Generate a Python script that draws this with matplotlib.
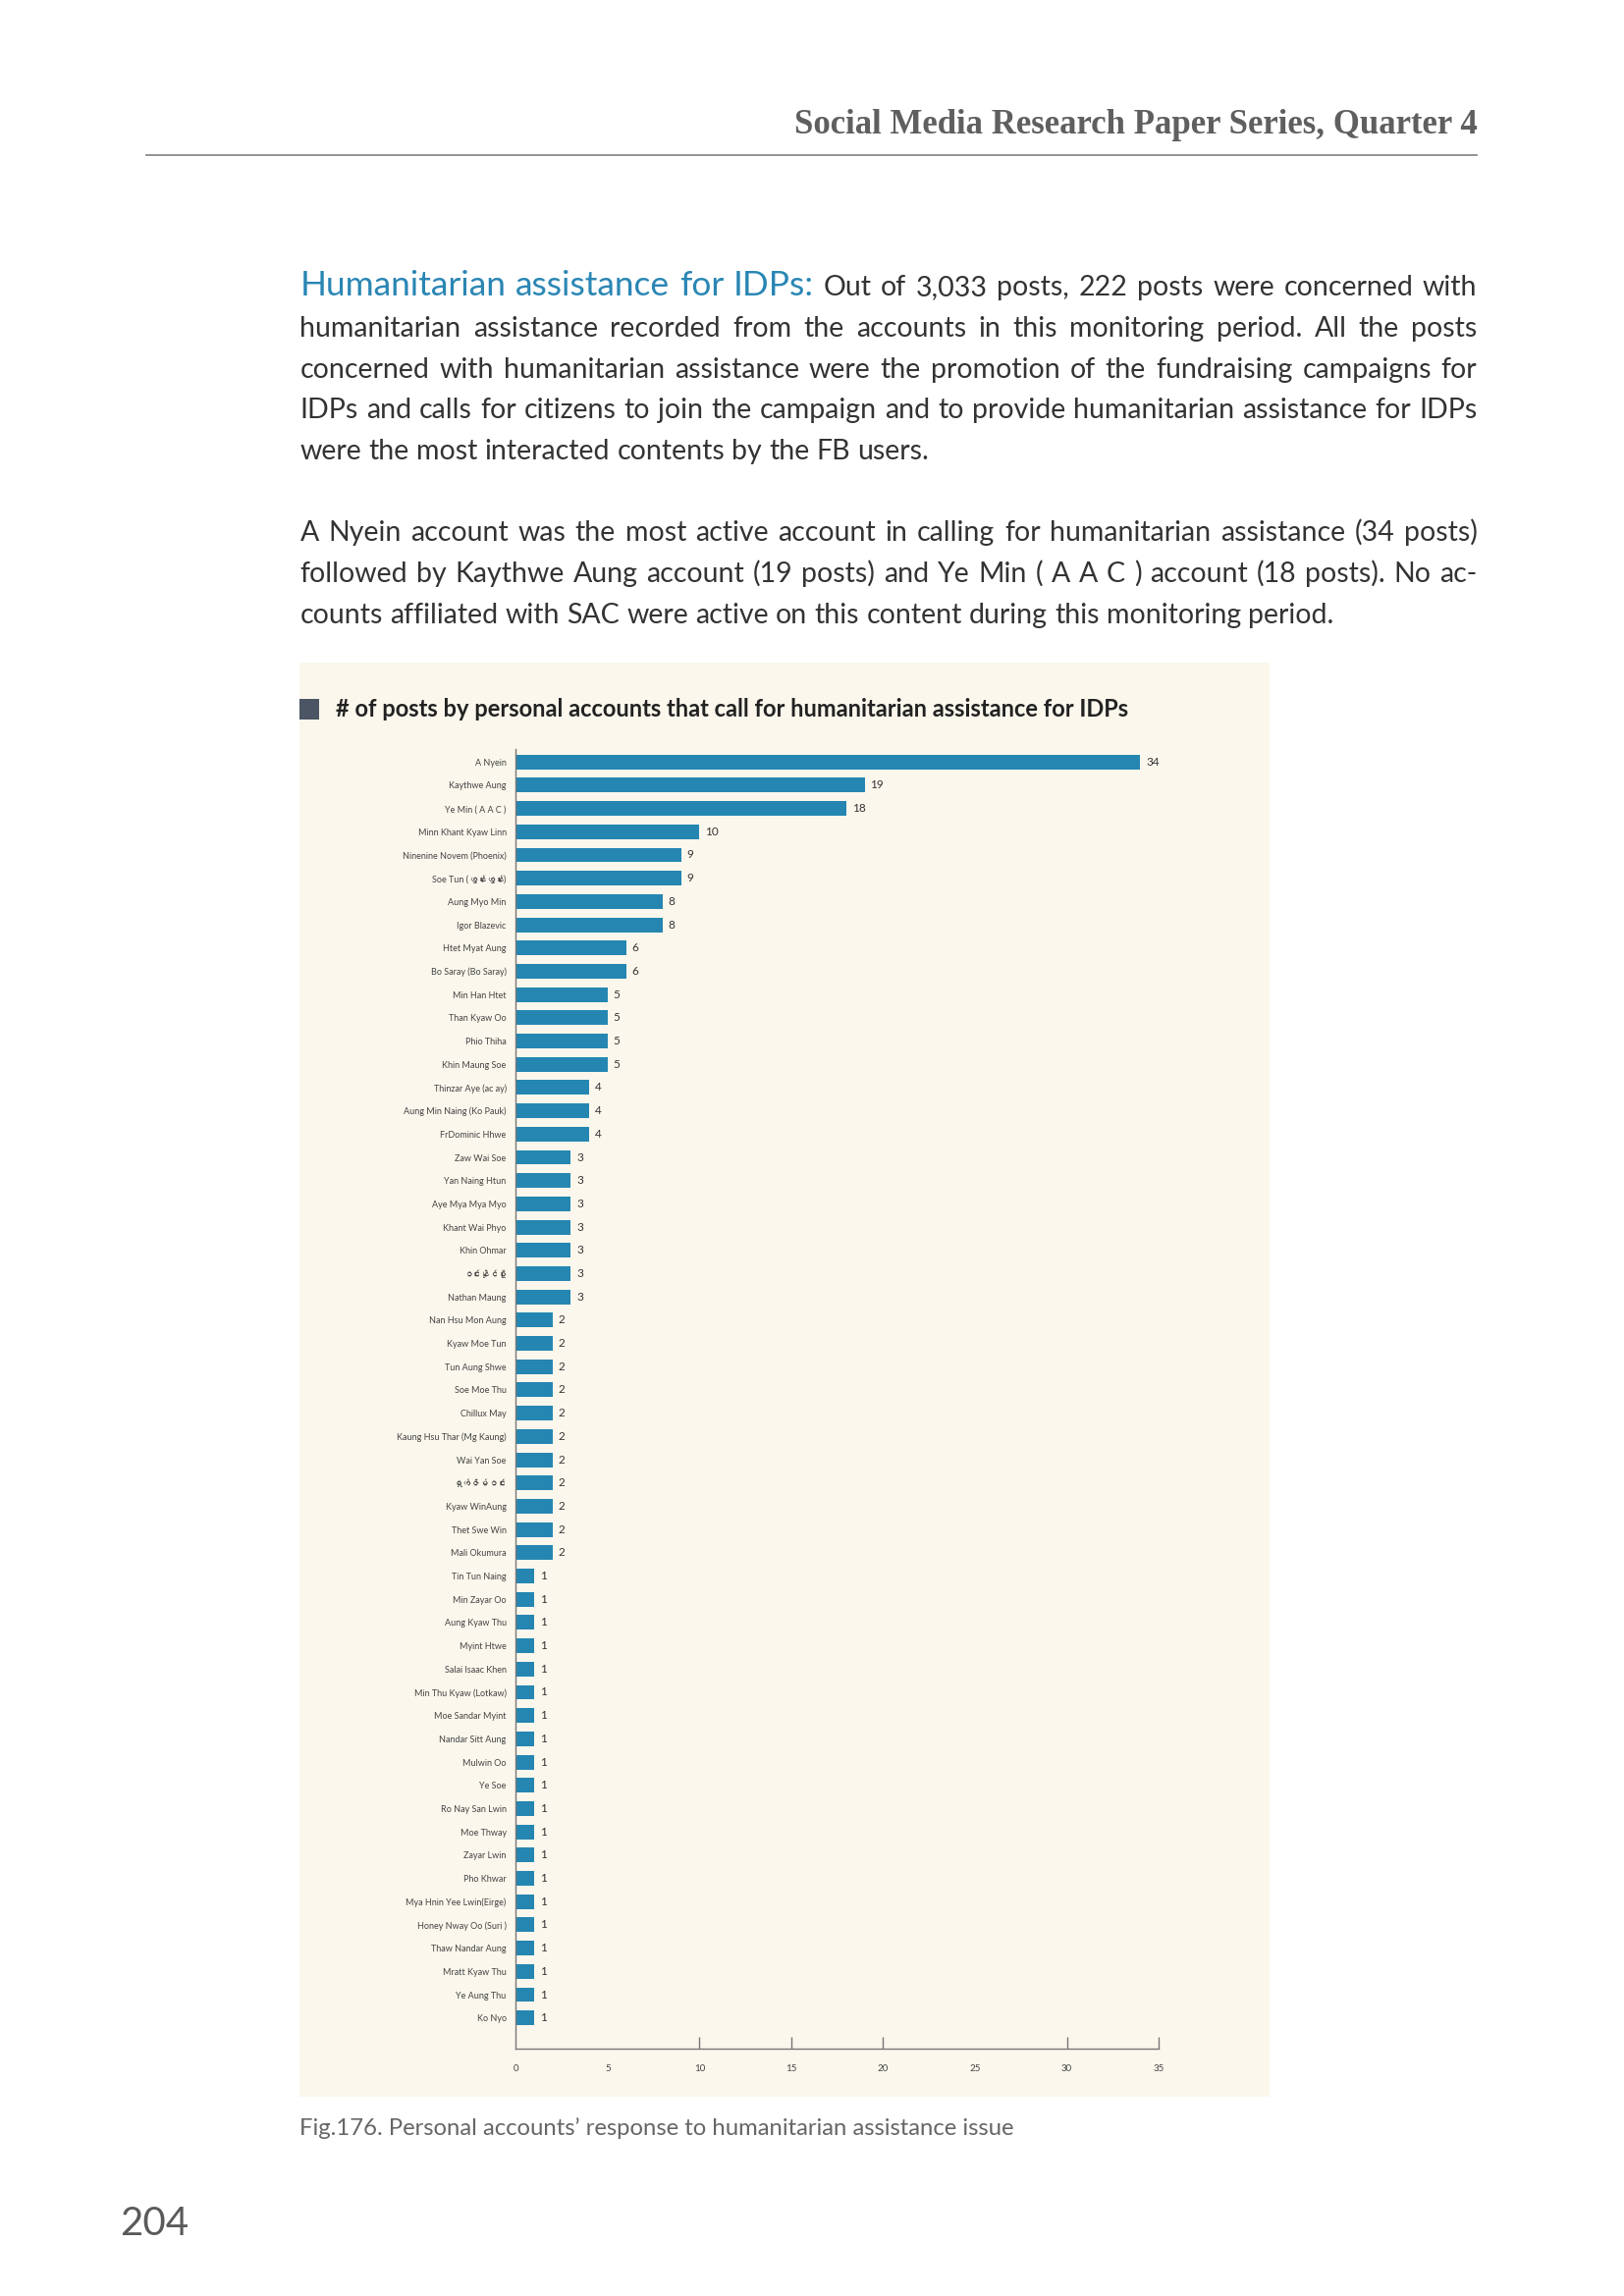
import matplotlib
matplotlib.use("Agg")
from matplotlib import pyplot as plt
from matplotlib import font_manager
from matplotlib.ft2font import FT2Font
from matplotlib.patches import Rectangle

names = [
    "A Nyein", "Kaythwe Aung", "Ye Min ( A A C )", "Minn Khant Kyaw Linn",
    "Ninenine Novem (Phoenix)", "Soe Tun (ထွန်းထွန်း)", "Aung Myo Min", "Igor Blazevic",
    "Htet Myat Aung", "Bo Saray (Bo Saray)", "Min Han Htet", "Than Kyaw Oo",
    "Phio Thiha", "Khin Maung Soe", "Thinzar Aye (ac ay)", "Aung Min Naing (Ko Pauk)",
    "FrDominic Hhwe", "Zaw Wai Soe", "Yan Naing Htun", "Aye Mya Mya Myo",
    "Khant Wai Phyo", "Khin Ohmar", "ဝင်းနိုင်ဦး", "Nathan Maung",
    "Nan Hsu Mon Aung", "Kyaw Moe Tun", "Tun Aung Shwe", "Soe Moe Thu",
    "Chillux May", "Kaung Hsu Thar (Mg Kaung)", "Wai Yan Soe", "ရှက်ဇိမ်ဝင်း",
    "Kyaw WinAung", "Thet Swe Win", "Mali Okumura", "Tin Tun Naing",
    "Min Zayar Oo", "Aung Kyaw Thu", "Myint Htwe", "Salai Isaac Khen",
    "Min Thu Kyaw (Lotkaw)", "Moe Sandar Myint", "Nandar Sitt Aung", "Mulwin Oo",
    "Ye Soe", "Ro Nay San Lwin", "Moe Thway", "Zayar Lwin",
    "Pho Khwar", "Mya Hnin Yee Lwin(Eirge)", "Honey Nway Oo (Suri )", "Thaw Nandar Aung",
    "Mratt Kyaw Thu", "Ye Aung Thu", "Ko Nyo",
]
posts = [
    34, 19, 18, 10, 9, 9, 8, 8, 6, 6, 5, 5, 5, 5, 4, 4, 4,
    3, 3, 3, 3, 3, 3, 3,
    2, 2, 2, 2, 2, 2, 2, 2, 2, 2, 2,
    1, 1, 1, 1, 1, 1, 1, 1, 1, 1, 1, 1, 1, 1, 1, 1, 1, 1, 1, 1,
]
x_ticks = [0, 5, 10, 15, 20, 25, 30, 35]
tick_marks = [10, 15, 20, 30, 35]

para1 = [
    "Out of 3,033 posts, 222 posts were concerned with",
    "humanitarian assistance recorded from the accounts in this monitoring period. All the posts",
    "concerned with humanitarian assistance were the promotion of the fundraising campaigns for",
    "IDPs and calls for citizens to join the campaign and to provide humanitarian assistance for IDPs",
    "were the most interacted contents by the FB users.",
]
para2 = [
    "A Nyein account was the most active account in calling for humanitarian assistance (34 posts)",
    "followed by Kaythwe Aung account (19 posts) and Ye Min ( A A C ) account (18 posts). No ac-",
    "counts affiliated with SAC were active on this content during this monitoring period.",
]

# look for any installed family that has Myanmar glyphs
myanmar = []
for f in font_manager.fontManager.ttflist:
    try:
        if 0x1000 in FT2Font(f.fname).get_charmap() and f.name not in myanmar:
            myanmar.append(f.name)
    except Exception:
        pass

W, H = 1654, 2339
S = 0.995  # page coords measured slightly large
fig = plt.figure(figsize=(W / 100, H / 100), dpi=100)
fig.patch.set_facecolor("white")
renderer = fig.canvas.get_renderer()

FAM = ["Lato", "DejaVu Sans"]
LABEL_FAM = ["Lato"] + myanmar + ["DejaVu Sans"]
BLUE = "#2A86B4"


def px(x, y):
    return x * S / W, 1 - y * S / H


def width_of(txt, **kw):
    t = fig.text(0, 0, txt, **kw)
    w = t.get_window_extent(renderer).width
    t.remove()
    return w / S


def draw_line(words, x0, x1, y, justify):
    widths = [width_of(w, **st) for w, st in words]
    space = width_of("a a", **words[-1][1]) - width_of("aa", **words[-1][1])
    if justify and len(words) > 1:
        gap = (x1 - x0 - sum(widths)) / (len(words) - 1)
    else:
        gap = space
    x = x0
    for (w, st), wd in zip(words, widths):
        fig.text(*px(x, y), w, va="baseline", ha="left", **st)
        x += wd + gap


body = dict(fontsize=20.5, family=FAM, color="#333333")
head = dict(fontsize=25.4, family=FAM, color=BLUE)

# header
fig.text(*px(1512, 137), "Social Media Research Paper Series, Quarter 4", ha="right",
         va="baseline", fontsize=25, fontweight="bold", family="Liberation Serif", color="#5f5f5f")
lx0, ly = px(150, 159)
lx1, _ = px(1512, 159)
fig.add_artist(plt.Line2D([lx0, lx1], [ly, ly], color="#8a8a8a", lw=1.3))

# paragraphs
base = [303, 345, 387, 428, 470]
for i, line in enumerate(para1):
    words = [(w, body) for w in line.split()]
    if i == 0:
        words = [(w, head) for w in "Humanitarian assistance for IDPs:".split()] + words
    draw_line(words, 307, 1512, base[i], justify=(i < len(para1) - 1))
base2 = [554, 596, 638]
for i, line in enumerate(para2):
    words = [(w, body) for w in line.split()]
    draw_line(words, 307, 1512, base2[i], justify=(i < len(para2) - 1))

# chart panel
x0, y_top = px(307, 678)
x1, y_bot = px(1299, 2147)
fig.add_artist(Rectangle((x0, y_bot), x1 - x0, y_top - y_bot, transform=fig.transFigure,
                         facecolor="#FBF7EC", edgecolor="none", zorder=0))
sx, sy = px(307, 737)
fig.add_artist(Rectangle((sx, sy), 20 * S / W, 21 * S / H, transform=fig.transFigure,
                         facecolor="#4B5563", edgecolor="none"))
fig.text(*px(344, 734), "# of posts by personal accounts that call for humanitarian assistance for IDPs",
         ha="left", va="baseline", fontsize=17, fontweight="bold", family=FAM, color="#222222")

ax_l, ax_t = px(528, 767)
ax_r, ax_b = px(1186, 2097)
ax = fig.add_axes([ax_l, ax_b, ax_r - ax_l, ax_t - ax_b])
ax.set_facecolor("none")
ypos = list(range(len(names)))
bars = ax.barh(ypos, posts, height=0.63, color="#2586B2")
for b, v in zip(bars, posts):
    ax.text(v + 0.3, b.get_y() + b.get_height() / 2, str(v), va="center", ha="left",
            fontsize=8.5, color="#333333", family=FAM)
ax.set_ylim(len(names) + 0.3, -0.55)
ax.set_xlim(0, 35)
ax.set_yticks(ypos)
ax.set_yticklabels(names, fontsize=6.5, color="#444444", family=LABEL_FAM)
ax.tick_params(axis="y", length=0, pad=7)
ax.set_xticks(x_ticks)
ax.set_xticklabels([str(t) for t in x_ticks], fontsize=7, color="#444444", family=FAM)
ax.tick_params(axis="x", length=9, direction="in", color="#777777", width=1, pad=12)
# only some ticks show a mark in the original
for t, tk in zip(x_ticks, ax.xaxis.get_major_ticks()):
    if t not in tick_marks:
        tk.tick1line.set_visible(False)
for s in ["top", "right"]:
    ax.spines[s].set_visible(False)
for s in ["left", "bottom"]:
    ax.spines[s].set_color("#777777")
    ax.spines[s].set_linewidth(1)

# caption and page number
fig.text(*px(307, 2186), "Fig.176. Personal accounts\u2019 response to humanitarian assistance issue",
         ha="left", va="baseline", fontsize=17.2, family=FAM, color="#666666")
fig.text(*px(123, 2288), "204", ha="left", va="baseline", fontsize=29, family=FAM,
         color="#5a5a5a")

fig.savefig("out.png", dpi=100, facecolor="white")
